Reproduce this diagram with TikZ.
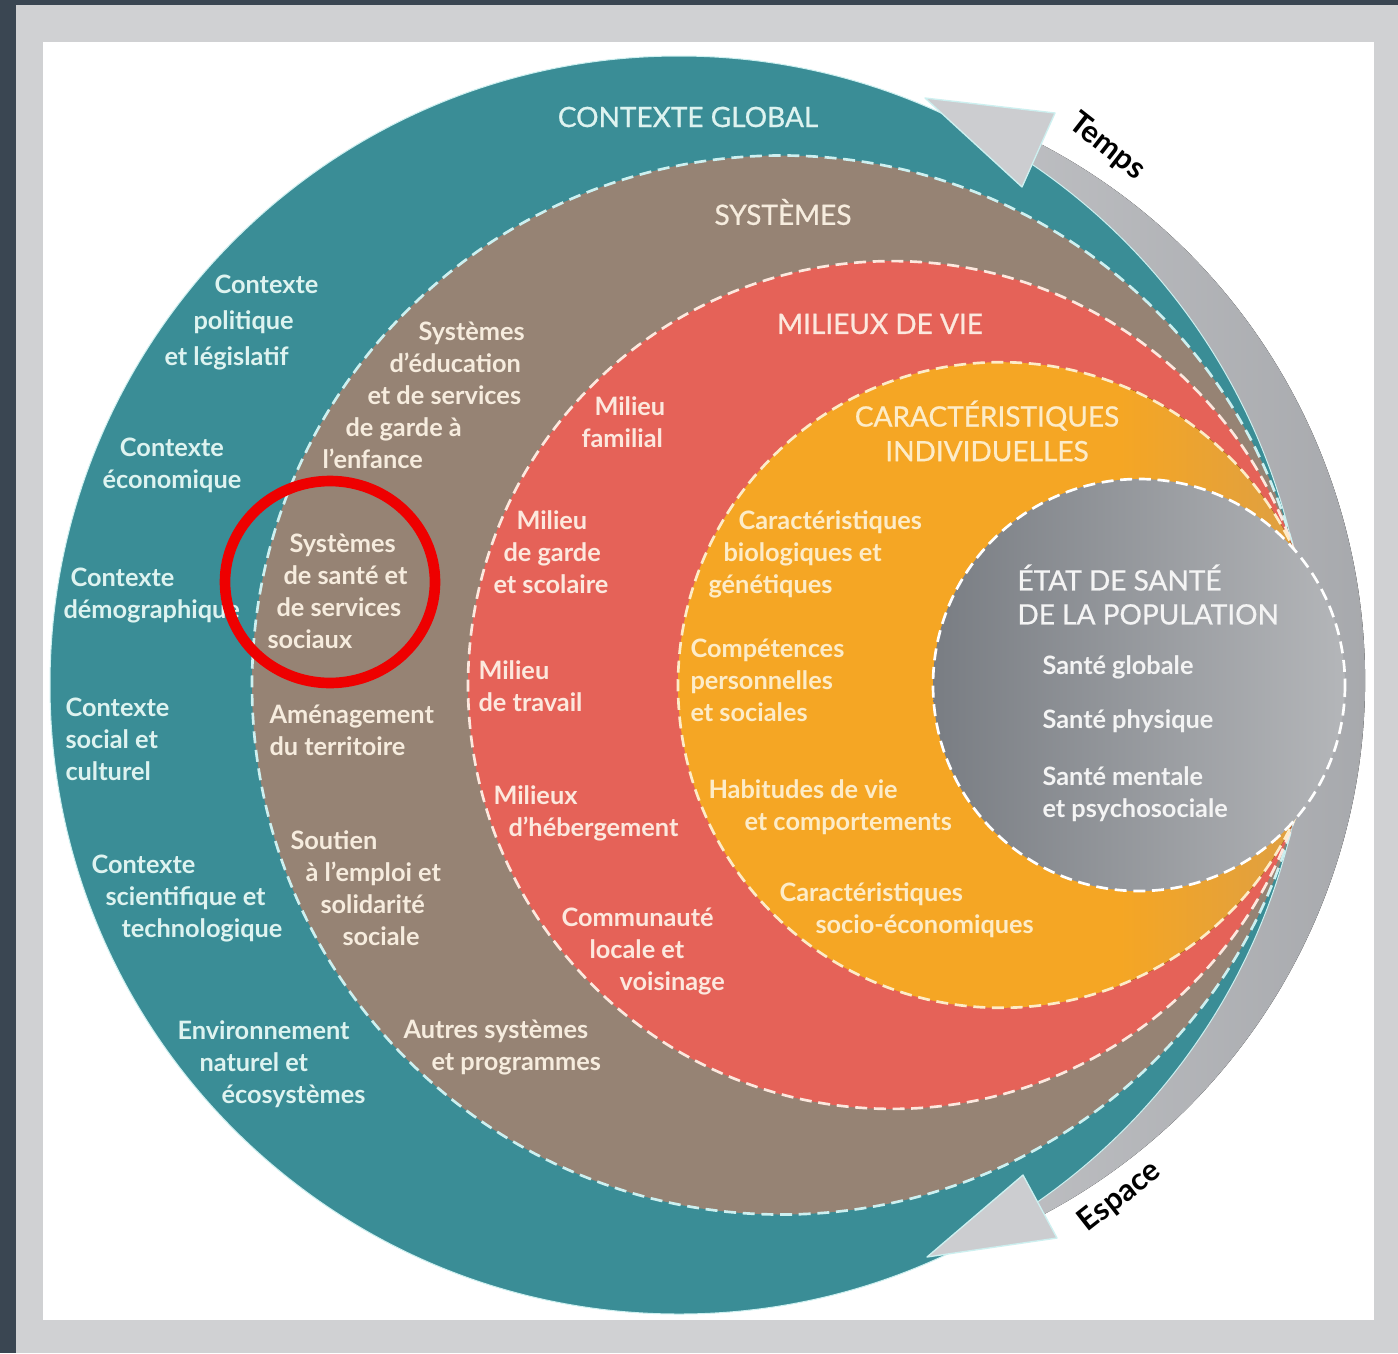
\documentclass[tikz,border=0pt]{standalone}
\usepackage{fontspec}
\setmainfont{Lato}
\usetikzlibrary{calc}

\definecolor{framedark}{RGB}{58,70,82}
\definecolor{framegray}{RGB}{208,209,211}
\definecolor{tealring}{RGB}{58,141,150}
\definecolor{brownring}{RGB}{150,131,116}
\definecolor{redring}{RGB}{229,98,88}
\definecolor{orangering}{RGB}{245,166,36}
\definecolor{orangeend}{RGB}{218,158,72}
\definecolor{graydark}{RGB}{121,125,131}
\definecolor{graylight}{RGB}{180,182,185}
\definecolor{bandlight}{RGB}{204,205,208}
\definecolor{banddark}{RGB}{162,164,168}
\definecolor{palecyan}{RGB}{205,240,240}
\definecolor{ctxwhite}{RGB}{222,243,240}
\definecolor{syswhite}{RGB}{246,236,222}
\definecolor{mvwhite}{RGB}{252,232,222}
\definecolor{ciwhite}{RGB}{253,236,200}
\definecolor{eswhite}{RGB}{244,244,244}
\definecolor{markred}{RGB}{238,0,0}

\newlength\pxu
\setlength\pxu{0.75pt}
\newcommand\indpx[1]{\hspace*{#1\pxu}}

\tikzset{every picture/.style={line width=0.75pt},
  txt/.style={anchor=north west, inner sep=0.75pt, align=left, font=\fontsize{19}{24}\selectfont\bfseries},
  ctxtxt/.style={txt, text=ctxwhite},
  systxt/.style={txt, text=syswhite},
  mvtxt/.style={txt, text=mvwhite},
  citxt/.style={txt, text=ciwhite},
  estxt/.style={txt, text=eswhite},
  heading/.style={inner sep=0.75pt, align=center, font=\fontsize{21}{26}\selectfont\addfontfeature{FakeBold=0.8}},
  ringline/.style={dash pattern=on 9pt off 5pt, line width=2pt},
  headfill/.style={fill=bandlight, draw=palecyan, line width=1pt, line join=round},
  timelabel/.style={inner sep=0.75pt, font=\fontsize{23}{28}\selectfont\bfseries, text=black}
}

\begin{document}
\begin{tikzpicture}[x=0.75pt,y=0.75pt,yscale=-1,xscale=1]
\useasboundingbox (0,0) rectangle (1398,1353);

%Shape: Rectangle (frame)
\fill[framedark] (0,0) rectangle (1398,1353);
\fill[framegray] (16,5) rectangle (1398,1353);
\fill[white] (43,42) rectangle (1374,1320);

%Shape: Arc (time and space band)
\fill[left color=bandlight, right color=banddark] (760,680) ++(-62.5:605) arc[start angle=-62.5, end angle=62.5, radius=605] -- ($(760,680)+(62.5:470)$) arc[start angle=62.5, end angle=-62.5, radius=470] -- cycle;

%Shape: Circle (contexte global)
\draw[palecyan, fill=tealring] (679,685) circle [radius=629];
%Shape: Circle (systemes)
\draw[ringline, draw=palecyan, fill=brownring] (781.5,685) circle [radius=529.5];
%Shape: Circle (milieux de vie)
\draw[ringline, draw=mvwhite, fill=redring] (891.9,685) circle [radius=423.9];
%Shape: Circle (caracteristiques individuelles)
\fill[orangering] (1000.8,685) circle [radius=322.8];
\begin{scope}
\clip (1000.8,685) circle [radius=322.8];
\fill[left color=orangering, right color=orangeend] (1120,350) rectangle (1330,1020);
\end{scope}
\draw[ringline, draw=ciwhite] (1000.8,685) circle [radius=322.8];
%Shape: Circle (etat de sante)
\draw[ringline, draw=white, left color=graydark, right color=graylight] (1139,685) circle [radius=206];

%Shape: Triangle (arrow heads)
\draw[headfill] (925,98) -- (1055,113) -- (1022,187) -- cycle;
\draw[headfill] (927,1257) -- (1057,1238) -- (1023,1175) -- cycle;

% Text Node
\node[heading, text=ctxwhite] (glob) at (688,117) {CONTEXTE GLOBAL};
% Text Node
\node[ctxtxt, font=\fontsize{19}{27}\selectfont\bfseries] (pol) at (163,273) {\indpx{50}Contexte\\ \indpx{29}politique\\ et législatif};
% Text Node
\node[ctxtxt, align=center] (eco) at (101,436) {Contexte\\ économique};
% Text Node
\node[ctxtxt] (demo) at (62,566) {\indpx{7}Contexte\\ démographique};
% Text Node
\node[ctxtxt] (soc) at (64,696) {Contexte\\ social et\\ culturel};
% Text Node
\node[ctxtxt] (sci) at (90,853) {Contexte\\ \indpx{14}scientifique et\\ \indpx{30}technologique};
% Text Node
\node[ctxtxt] (env) at (176,1019) {Environnement\\ \indpx{22}naturel et\\ \indpx{44}écosystèmes};

% Text Node
\node[heading, text=syswhite] (sys) at (783,212) {SYSTÈMES};
% Text Node
\node[systxt] (educ) at (321,320) {\indpx{96}Systèmes\\ \indpx{67}d’éducation\\ \indpx{45}et de services\\ \indpx{23}de garde à\\ l’enfance};
% Text Node
\node[systxt] (sante) at (266,532) {\indpx{22}Systèmes\\ \indpx{16}de santé et\\ \indpx{9}de services\\ sociaux};
% Text Node
\node[systxt] (amen) at (268,703) {Aménagement\\ du territoire};
% Text Node
\node[systxt] (emploi) at (289,829) {Soutien\\ \indpx{15}à l’emploi et\\ \indpx{30}solidarité\\ \indpx{52}sociale};
% Text Node
\node[systxt] (autres) at (402,1018) {Autres systèmes\\ \indpx{28}et programmes};

% Text Node
\node[heading, text=mvwhite] (milieux) at (880,324) {MILIEUX DE VIE};
% Text Node
\node[mvtxt] (fam) at (580,395) {\indpx{13}Milieu\\ familial};
% Text Node
\node[mvtxt] (garde) at (492,509) {\indpx{23}Milieu\\ \indpx{10}de garde\\ et scolaire};
% Text Node
\node[mvtxt] (trav) at (477,659) {Milieu\\ de travail};
% Text Node
\node[mvtxt] (heb) at (492,784) {Milieux\\ \indpx{15}d’hébergement};
% Text Node
\node[mvtxt] (comm) at (560,906) {Communauté\\ \indpx{28}locale et\\ \indpx{58}voisinage};

% Text Node
\node[heading, text=ciwhite] (carind) at (987,431) {CARACTÉRISTIQUES\\ INDIVIDUELLES};
% Text Node
\node[citxt] (bio) at (707,509) {\indpx{30}Caractéristiques\\ \indpx{15}biologiques et\\ génétiques};
% Text Node
\node[citxt] (comp) at (689,637) {Compétences\\ personnelles\\ et sociales};
% Text Node
\node[citxt] (habit) at (707,778) {Habitudes de vie\\ \indpx{36}et comportements};
% Text Node
\node[citxt] (socio) at (778,881) {Caractéristiques\\ \indpx{36}socio-économiques};

% Text Node
\node[heading, text=eswhite, anchor=north west, align=left, font=\fontsize{21}{25.5}\selectfont\addfontfeature{FakeBold=0.8}] (etat) at (1016,563) {ÉTAT DE SANTÉ\\ DE LA POPULATION};
% Text Node
\node[estxt] (glo) at (1041,654) {Santé globale};
% Text Node
\node[estxt] (phy) at (1041,708) {Santé physique};
% Text Node
\node[estxt] (men) at (1041,765) {Santé mentale\\ et psychosociale};

% Text Node
\node[timelabel, rotate=-38] (temps) at (1107,147) {Temps};
% Text Node
\node[timelabel, rotate=38] (espace) at (1120,1197) {Espace};

%Shape: Ellipse (mark)
\draw[markred, line width=8pt] (330,582) ellipse [x radius=105, y radius=101];

\end{tikzpicture}
\end{document}
